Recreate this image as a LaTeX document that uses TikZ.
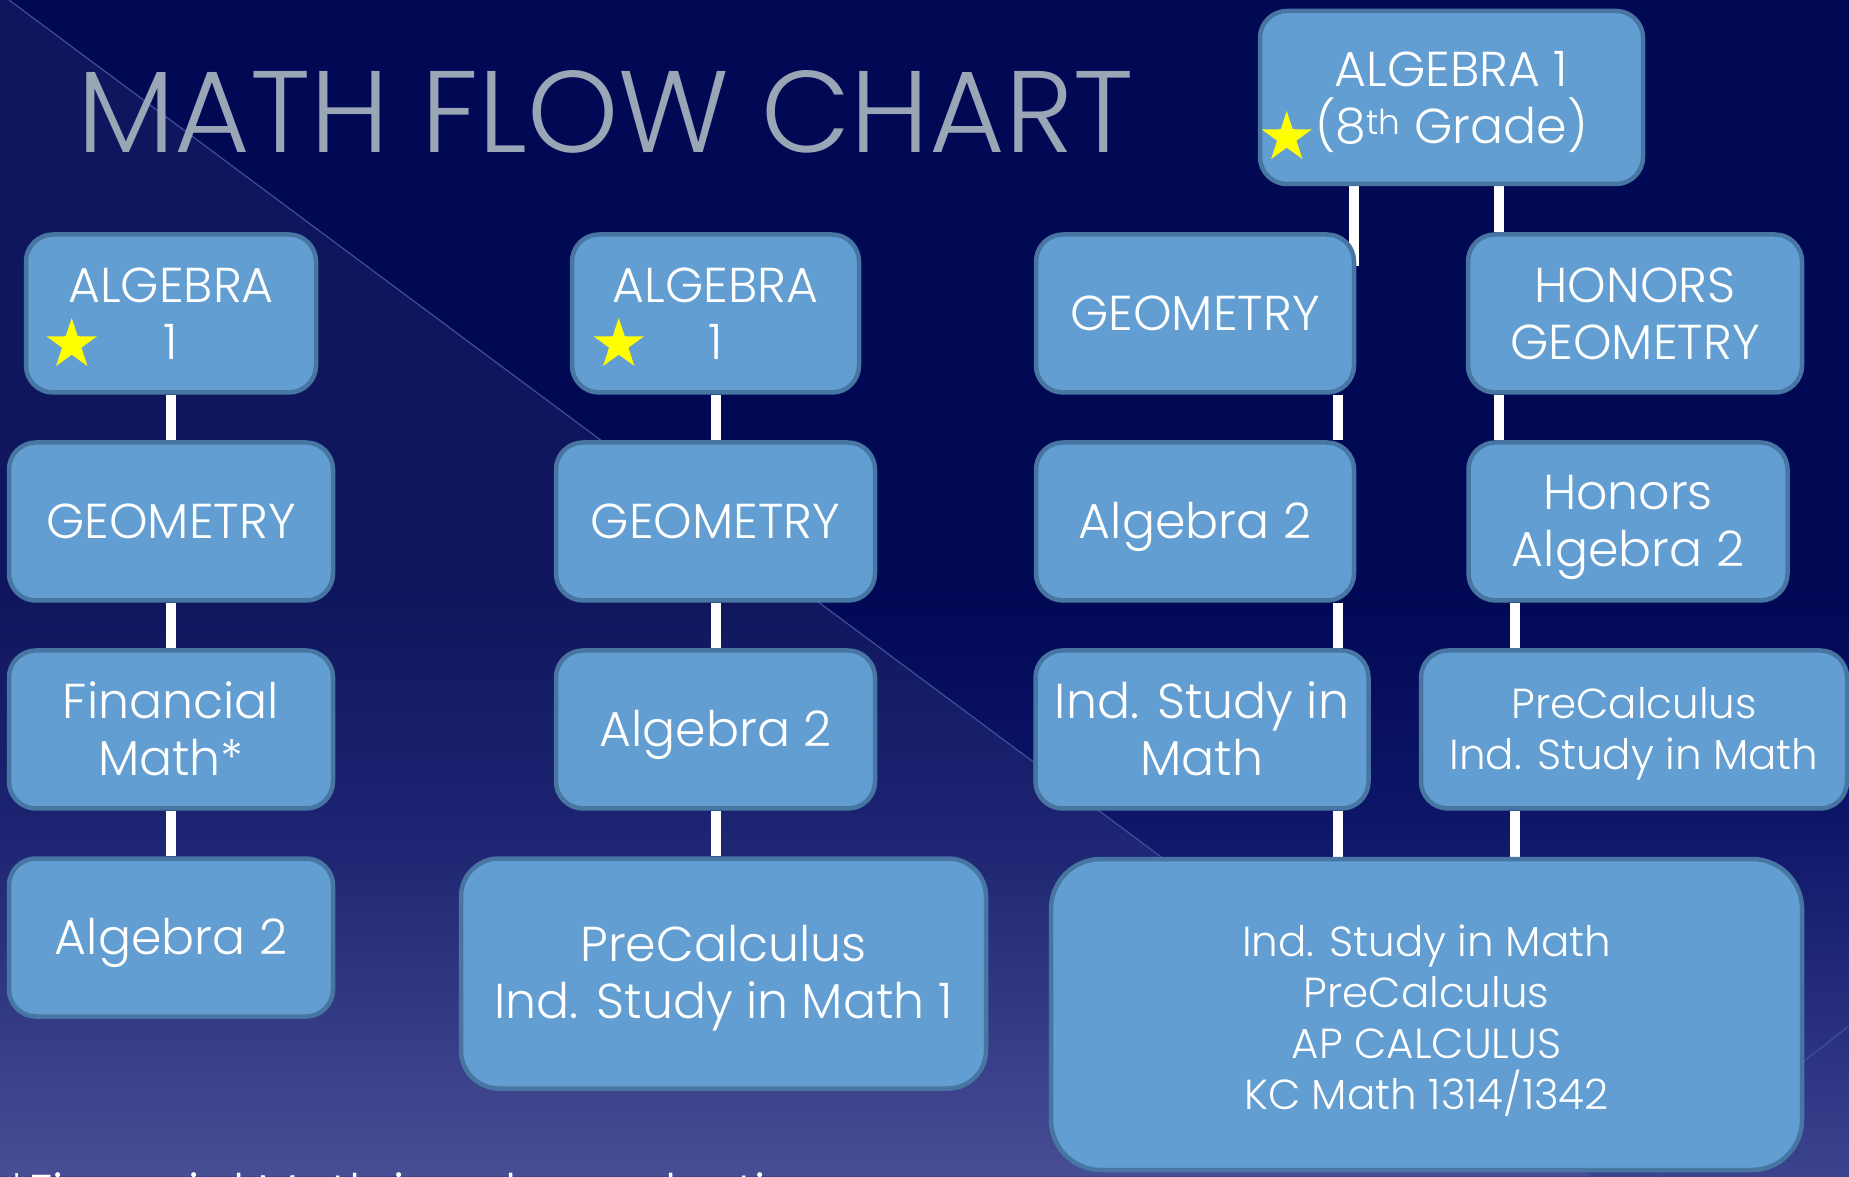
\documentclass[tikz,border=0pt]{standalone}
\usepackage{fontspec}
\setmainfont{Poppins}[UprightFont=* Light]
\usetikzlibrary{positioning,shapes.geometric}

\definecolor{bgtop}{RGB}{1,8,84}
\definecolor{bgmid}{RGB}{14,22,104}
\definecolor{bgbottom}{RGB}{60,67,142}
\definecolor{boxfill}{RGB}{98,158,210}
\definecolor{boxline}{RGB}{72,118,163}
\definecolor{titlegrey}{RGB}{154,165,181}
\definecolor{staryellow}{RGB}{255,255,0}
\definecolor{streak}{RGB}{64,78,158}

\pgfdeclareverticalshading{bgfade}{100bp}{color(0bp)=(bgbottom); color(25bp)=(bgbottom); color(40bp)=(bgmid); color(50bp)=(bgtop); color(100bp)=(bgtop)}
\pgfdeclarelayer{back}
\pgfdeclarelayer{links}
\pgfsetlayers{back,links,main}

\newcommand{\boxfont}{\fontsize{49}{57}\selectfont}
\newcommand{\smallboxfont}{\fontsize{42}{51}\selectfont}
\newcommand{\topstrut}{\rule{0pt}{0.95em}}
\newcommand{\lowstrut}{\rule{0pt}{48pt}}

\begin{document}
\begin{tikzpicture}[x=1pt, y=1pt, node distance=45.5pt, course/.style={rectangle, draw=boxline, fill=boxfill, line width=4.5pt, rounded corners=27pt, text=white, align=center, minimum height=158pt, inner sep=0pt, font=\boxfont, execute at begin node=\rule{0pt}{0.95em}, execute at end node=\rule[-0.25em]{0pt}{0.25em}}, link/.style={draw=white, line width=10pt}, starmark/.style={star, star points=5, star point ratio=2.6, fill=staryellow, inner sep=0pt, minimum size=53pt}]

    \useasboundingbox (0,0) rectangle (1849,1176);
    \clip (0,0) rectangle (1849,1176);

    \node[anchor=base west, inner sep=0pt, text=titlegrey, font=\fontsize{116}{116}\selectfont] (title) at (77,1023) {MATH FLOW CHART};

    \node[course, minimum width=290pt] (algA) at (171,862.5) {\topstrut ALGEBRA\\1};
    \node[course, minimum width=324pt, below=of algA] (geoA) {GEOMETRY};
    \node[course, minimum width=324pt, below=of geoA] (finA) {\topstrut Financial\\Math*};
    \node[course, minimum width=324pt, below=of finA] (algtwoA) {Algebra 2};

    \node[course, minimum width=287pt] (algB) at (715.5,862.5) {\topstrut ALGEBRA\\1};
    \node[course, minimum width=319pt, below=of algB] (geoB) {GEOMETRY};
    \node[course, minimum width=319pt, below=of geoB] (algtwoB) {Algebra 2};
    \node[course, minimum width=525pt, minimum height=230pt, rounded corners=38pt, below=of algtwoB, xshift=8pt] (preB) {\topstrut PreCalculus\\Ind. Study in Math 1};

    \node[course, minimum width=383pt, minimum height=173pt] (algH) at (1451.5,1078.5) {\topstrut ALGEBRA 1\\(8\textsuperscript{th} Grade)};
    \node[course, minimum width=318pt] (geoC) at (1195,862.5) {GEOMETRY};
    \node[course, minimum width=318pt, below=of geoC] (algtwoC) {Algebra 2};
    \node[course, minimum width=333pt, below=of algtwoC, xshift=7pt] (indC) {\topstrut Ind. Study in\\Math};
    \node[course, minimum width=334pt] (honG) at (1635,862.5) {\topstrut HONORS\\GEOMETRY};
    \node[course, minimum width=319pt, below=of honG, xshift=-7pt] (honA) {\topstrut Honors\\Algebra 2};
    \node[course, minimum width=426pt, font=\smallboxfont, below=of honA, xshift=6pt] (preD) {\topstrut PreCalculus\\Ind. Study in Math};
    \node[course, minimum width=751pt, minimum height=311pt, rounded corners=50pt, font=\smallboxfont] (dual) at (1426.5,161.5) {\lowstrut Ind. Study in Math\\PreCalculus\\AP CALCULUS\\KC Math 1314/1342};

    \node[starmark] (starA) at ([xshift=48pt,yshift=-31pt]algA.west) {};
    \node[starmark] (starB) at ([xshift=49pt,yshift=-31pt]algB.west) {};
    \node[starmark] (starH) at ([xshift=29pt,yshift=-40pt]algH.west) {};

    \node[anchor=base west, inner sep=0pt, text=white, font=\boxfont] (note) at (5,-33) {*Financial Math is only an elective};

    % column lines for the two right tracks
    \coordinate (colH) at (1354,0);
    \coordinate (colG) at (1499,0);
    \coordinate (colC) at (1338,0);
    \coordinate (colD) at (1515,0);
    \coordinate (geoCtip) at (1354,910);

    \begin{pgfonlayer}{links}
        \draw[link] (algA.south) -- (geoA.north);
        \draw[link] (geoA.south) -- (finA.north);
        \draw[link] (finA.south) -- (algtwoA.north);
        \draw[link] (algB.south) -- (geoB.north);
        \draw[link] (geoB.south) -- (algtwoB.north);
        \draw[link] (algtwoB.south) -- (algtwoB.south |- preB.north);
        \draw[link] (algH.south -| colH) -- (geoCtip);
        \draw[link] (algH.south -| colG) -- (honG.north -| colG);
        \draw[link] (geoC.south -| colC) -- (algtwoC.north -| colC);
        \draw[link] (algtwoC.south -| colC) -- (indC.north -| colC);
        \draw[link] (indC.south -| colC) -- (dual.north -| colC);
        \draw[link] (honG.south -| colG) -- (honA.north -| colG);
        \draw[link] (honA.south -| colD) -- (preD.north -| colD);
        \draw[link] (preD.south -| colD) -- (dual.north -| colD);
    \end{pgfonlayer}

    \begin{pgfonlayer}{back}
        \shade[shading=bgfade] (0,0) rectangle (1849,1176);
        \fill[white, opacity=0.06] (0,0) -- (0,1176) -- (9,1176) -- (1590,0) -- cycle;
        \draw[streak, line width=1.2pt] (9,1176) -- (1590,0);
        \draw[streak, line width=1.2pt] (1657,0) -- (1849,150);
    \end{pgfonlayer}

\end{tikzpicture}
\end{document}
